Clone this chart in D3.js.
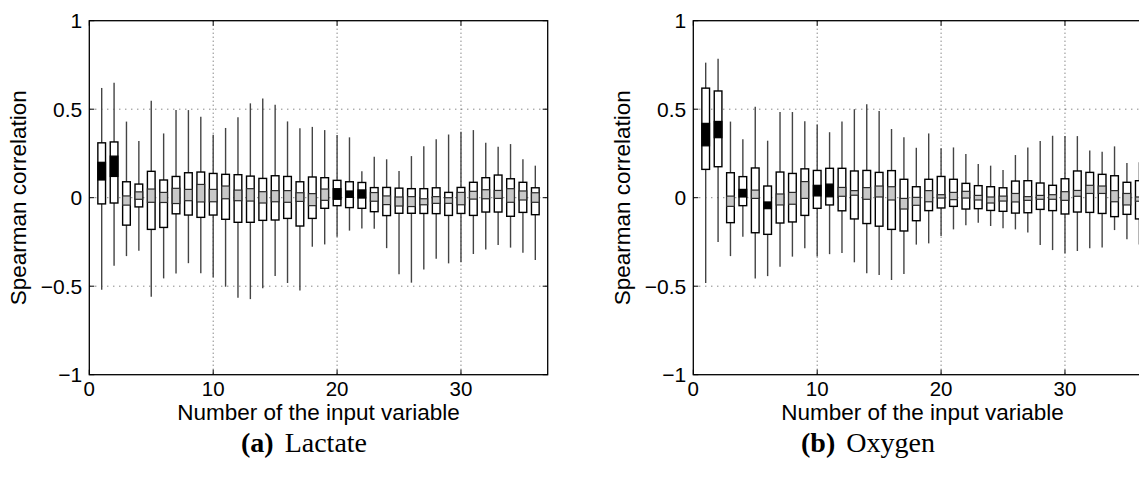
<!DOCTYPE html>
<html>
<head>
<meta charset="utf-8">
<script src="https://cdn.jsdelivr.net/npm/d3@7"></script>
<style>
  html, body { margin: 0; padding: 0; background: #fff; }
  svg { display: block; }
</style>
</head>
<body>
<svg id="chart" width="1139" height="482"></svg>
<script>
// ---------------- DATA ----------------
const variables = d3.range(1, 37); // input variable numbers 1..36
const xTicks = [0, 10, 20, 30];
const yTicks = [-1, -0.5, 0, 0.5, 1];
const yTickLabels = ["\u22121", "\u22120.5", "0", "0.5", "1"];
const xGrid = [10, 20, 30];
const yGrid = [-0.5, 0, 0.5];

// Lactate panel
const lactateWhiskerHigh = [0.62,0.65,0.43,0.32,0.548,0.363,0.495,0.495,0.458,0.356,0.394,0.454,0.533,0.561,0.525,0.431,0.392,0.40,0.382,0.354,0.341,0.149,0.232,0.217,0.151,0.235,0.29,0.33,0.357,0.373,0.382,0.311,0.288,0.303,0.217,0.181];
const lactateWhiskerLow  = [-0.52,-0.385,-0.33,-0.30,-0.56,-0.456,-0.428,-0.37,-0.427,-0.45,-0.503,-0.565,-0.573,-0.512,-0.443,-0.482,-0.524,-0.277,-0.264,-0.22,-0.186,-0.174,-0.175,-0.285,-0.433,-0.48,-0.405,-0.345,-0.371,-0.365,-0.318,-0.292,-0.267,-0.282,-0.311,-0.352];
const lactateQ3 = [0.31,0.315,0.09,0.077,0.149,0.10,0.12,0.141,0.145,0.137,0.132,0.13,0.122,0.109,0.124,0.12,0.09,0.117,0.113,0.098,0.09,0.086,0.057,0.058,0.054,0.051,0.051,0.056,0.03,0.058,0.087,0.113,0.128,0.107,0.087,0.056];
const lactateQ1 = [-0.035,-0.03,-0.155,-0.052,-0.179,-0.168,-0.091,-0.098,-0.111,-0.098,-0.122,-0.139,-0.139,-0.128,-0.126,-0.117,-0.16,-0.117,-0.06,-0.045,-0.056,-0.06,-0.079,-0.101,-0.088,-0.088,-0.089,-0.09,-0.10,-0.089,-0.10,-0.081,-0.081,-0.105,-0.083,-0.096];
const lactateInnerHigh = [0.20,0.235,0.01,0.033,0.049,0.03,0.053,0.047,0.075,0.047,0.066,0.043,0.051,0.034,0.04,0.04,0.028,0.023,0.049,0.051,0.038,0.044,0.029,0.01,0.004,0.006,-0.006,0.006,0.0,0.03,0.036,0.045,0.041,0.051,0.038,0.028];
const lactateInnerLow  = [0.10,0.12,-0.042,-0.009,-0.026,-0.027,-0.033,-0.017,-0.024,-0.023,-0.006,-0.017,-0.019,-0.03,-0.023,-0.026,-0.021,-0.045,-0.015,-0.009,0.002,-0.002,-0.02,-0.039,-0.047,-0.05,-0.04,-0.032,-0.032,-0.04,-0.008,-0.006,-0.004,-0.026,-0.013,-0.026];
const lactateSignificant = [1,1,0,0,0,0,0,0,0,0,0,0,0,0,0,0,0,0,0,1,1,1,0,0,0,0,0,0,0,0,0,0,0,0,0,0];

// Oxygen panel
const oxygenWhiskerHigh = [0.763,0.785,0.43,0.33,0.514,0.322,0.484,0.484,0.432,0.413,0.37,0.431,0.50,0.528,0.49,0.388,0.341,0.282,0.363,0.279,0.284,0.247,0.19,0.181,0.156,0.241,0.284,0.32,0.35,0.348,0.348,0.267,0.26,0.29,0.196,0.20];
const oxygenWhiskerLow  = [-0.482,-0.25,-0.33,-0.22,-0.456,-0.443,-0.39,-0.333,-0.286,-0.332,-0.319,-0.312,-0.365,-0.427,-0.437,-0.465,-0.431,-0.265,-0.258,-0.217,-0.179,-0.156,-0.141,-0.16,-0.173,-0.179,-0.196,-0.267,-0.296,-0.314,-0.301,-0.286,-0.281,-0.183,-0.235,-0.264];
const oxygenQ3 = [0.619,0.603,0.141,0.119,0.168,0.066,0.145,0.137,0.163,0.154,0.166,0.166,0.151,0.154,0.143,0.153,0.104,0.062,0.104,0.12,0.104,0.081,0.068,0.062,0.056,0.094,0.096,0.083,0.07,0.107,0.151,0.143,0.132,0.124,0.087,0.096];
const oxygenQ1 = [0.16,0.175,-0.141,-0.045,-0.198,-0.207,-0.143,-0.137,-0.10,-0.06,-0.041,-0.074,-0.12,-0.146,-0.161,-0.179,-0.188,-0.13,-0.073,-0.058,-0.049,-0.064,-0.062,-0.072,-0.077,-0.087,-0.085,-0.066,-0.073,-0.092,-0.081,-0.083,-0.089,-0.107,-0.094,-0.12];
const oxygenInnerHigh = [0.42,0.431,0.009,0.047,0.043,-0.024,0.021,0.03,0.091,0.07,0.077,0.058,0.04,0.057,0.066,0.062,-0.004,0.002,0.04,0.017,0.03,0.036,0.013,0.004,0.009,0.024,0.006,0.013,0.017,0.034,0.041,0.07,0.066,0.04,0.024,0.004];
const oxygenInnerLow  = [0.293,0.339,-0.049,0.004,-0.004,-0.062,-0.041,-0.037,-0.004,0.01,0.005,0.008,0.014,-0.009,0.004,-0.013,-0.064,-0.043,-0.023,-0.002,-0.011,-0.002,-0.013,-0.03,-0.019,-0.024,-0.015,-0.009,-0.009,-0.015,0.008,0.024,0.024,-0.023,-0.041,-0.02];
const oxygenSignificant = [1,1,0,1,0,1,0,0,0,1,1,0,0,0,0,0,0,0,0,0,0,0,0,0,0,0,0,0,0,0,0,0,0,0,0,0];

const yLabel = "Spearman correlation";
const xLabel = "Number of the input variable";

// ---------------- DRAW ----------------
const svg = d3.select("#chart");
svg.append("rect").attr("width", 1139).attr("height", 482).attr("fill", "#fff");

function panel(opts) {
  const { left, right, top, bottom, wh, wl, q3, q1, ih, il, sig, caption, captionBold, captionX } = opts;
  const x = d3.scaleLinear().domain([0, 37]).range([left, right]);
  const y = d3.scaleLinear().domain([-1, 1]).range([bottom, top]);
  const g = svg.append("g");
  const boxW = x(0.62) - x(0);

  // grid
  g.selectAll(".xg").data(xGrid).join("line")
    .attr("x1", d => x(d)).attr("x2", d => x(d))
    .attr("y1", top).attr("y2", bottom)
    .attr("stroke", "#555").attr("stroke-width", 1).attr("stroke-dasharray", "1,3");
  g.selectAll(".yg").data(yGrid).join("line")
    .attr("x1", left).attr("x2", right)
    .attr("y1", d => y(d)).attr("y2", d => y(d))
    .attr("stroke", "#555").attr("stroke-width", 1).attr("stroke-dasharray", "1,5");

  const rows = variables.map((v, i) => ({
    v, wh: wh[i], wl: wl[i], q3: q3[i], q1: q1[i], ih: ih[i], il: il[i], sig: sig[i]
  }));

  // whiskers
  g.selectAll(".wh").data(rows).join("line")
    .attr("x1", d => x(d.v)).attr("x2", d => x(d.v))
    .attr("y1", d => y(d.wh)).attr("y2", d => y(d.wl))
    .attr("stroke", "#444").attr("stroke-width", 1.4);
  // outer box (IQR)
  g.selectAll(".ob").data(rows).join("rect")
    .attr("x", d => x(d.v) - boxW / 2).attr("width", boxW)
    .attr("y", d => y(d.q3)).attr("height", d => y(d.q1) - y(d.q3))
    .attr("fill", "#fff").attr("stroke", "#000").attr("stroke-width", 1.4);
  // inner box
  g.selectAll(".ib").data(rows).join("rect")
    .attr("x", d => x(d.v) - boxW / 2).attr("width", boxW)
    .attr("y", d => y(d.ih)).attr("height", d => Math.max(1, y(d.il) - y(d.ih)))
    .attr("fill", d => d.sig ? "#000" : "#c8c8c8")
    .attr("stroke", d => d.sig ? "#000" : "#2a2a2a").attr("stroke-width", 1.2);

  // frame
  g.append("rect").attr("x", left).attr("y", top)
    .attr("width", right - left).attr("height", bottom - top)
    .attr("fill", "none").attr("stroke", "#000").attr("stroke-width", 1.3);

  // ticks (inward)
  const tl = 5;
  g.selectAll(".xtb").data(xTicks).join("line")
    .attr("x1", d => x(d)).attr("x2", d => x(d)).attr("y1", bottom).attr("y2", bottom - tl)
    .attr("stroke", "#000");
  g.selectAll(".xtt").data(xTicks).join("line")
    .attr("x1", d => x(d)).attr("x2", d => x(d)).attr("y1", top).attr("y2", top + tl)
    .attr("stroke", "#000");
  g.selectAll(".ytl").data(yTicks).join("line")
    .attr("x1", left).attr("x2", left + tl).attr("y1", d => y(d)).attr("y2", d => y(d))
    .attr("stroke", "#000");
  g.selectAll(".ytr").data(yTicks).join("line")
    .attr("x1", right).attr("x2", right - tl).attr("y1", d => y(d)).attr("y2", d => y(d))
    .attr("stroke", "#000");

  // tick labels
  g.selectAll(".xtl").data(xTicks).join("text")
    .attr("x", d => x(d)).attr("y", bottom + 21.5)
    .attr("text-anchor", "middle")
    .attr("font-family", "Liberation Sans, Arial, sans-serif").attr("font-size", 20.5)
    .text(d => d);
  g.selectAll(".ytlab").data(yTicks).join("text")
    .attr("x", left - 7).attr("y", d => y(d)).attr("dy", "0.36em")
    .attr("text-anchor", "end")
    .attr("font-family", "Liberation Sans, Arial, sans-serif").attr("font-size", 21)
    .text((d, i) => yTickLabels[i]);

  // axis labels
  g.append("text")
    .attr("x", (left + right) / 2).attr("y", bottom + 45.5)
    .attr("text-anchor", "middle")
    .attr("font-family", "Liberation Sans, Arial, sans-serif").attr("font-size", 22.5)
    .text(xLabel);
  g.append("text")
    .attr("transform", `translate(${left - 63},${(top + bottom) / 2}) rotate(-90)`)
    .attr("text-anchor", "middle")
    .attr("font-family", "Liberation Sans, Arial, sans-serif").attr("font-size", 22.5)
    .text(yLabel);

  // caption
  const cap = g.append("text").attr("x", captionX).attr("y", 452)
    .attr("font-family", "Liberation Serif, Times New Roman, serif").attr("font-size", 28);
  cap.append("tspan").attr("font-weight", "bold").text(captionBold);
  cap.append("tspan").attr("dx", 11).text(caption);
}

panel({
  left: 89.3, right: 547.7, top: 20.7, bottom: 374.7,
  wh: lactateWhiskerHigh, wl: lactateWhiskerLow, q3: lactateQ3, q1: lactateQ1,
  ih: lactateInnerHigh, il: lactateInnerLow, sig: lactateSignificant,
  captionBold: "(a)", caption: "Lactate", captionX: 241
});
panel({
  left: 693.3, right: 1151.7, top: 20.7, bottom: 374.7,
  wh: oxygenWhiskerHigh, wl: oxygenWhiskerLow, q3: oxygenQ3, q1: oxygenQ1,
  ih: oxygenInnerHigh, il: oxygenInnerLow, sig: oxygenSignificant,
  captionBold: "(b)", caption: "Oxygen", captionX: 801
});
</script>
</body>
</html>
